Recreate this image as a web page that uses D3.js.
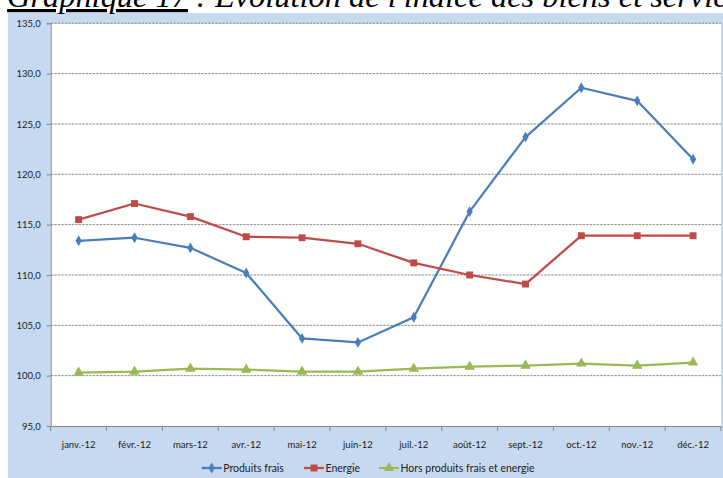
<!DOCTYPE html>
<html><head><meta charset="utf-8">
<script src="https://cdn.jsdelivr.net/npm/d3@7"></script>
<style>body{margin:0;background:#fff;overflow:hidden}svg{display:block}</style>
</head><body>
<svg id="c" width="723" height="478"></svg>
<script>
const months = ["janv.-12","févr.-12","mars-12","avr.-12","mai-12","juin-12","juil.-12","août-12","sept.-12","oct.-12","nov.-12","déc.-12"];
const produitsFrais = [113.4,113.7,112.7,110.2,103.7,103.3,105.8,116.3,123.7,128.6,127.3,121.5];
const energie = [115.5,117.1,115.8,113.8,113.7,113.1,111.2,110.0,109.1,113.9,113.9,113.9];
const horsProduits = [100.3,100.4,100.7,100.6,100.4,100.4,100.7,100.9,101.0,101.2,101.0,101.3];
const yTicks = [95,100,105,110,115,120,125,130,135];
const seriesNames = ["Produits frais","Energie","Hors produits frais et energie"];

const svg = d3.select("#c");
const W = 723, H = 478;
const m = {left:50.7, right:2, top:23.3, bottom:52};

svg.append("rect").attr("x",8).attr("y",13).attr("width",W-8).attr("height",H-13).attr("fill","#C6D9F1");
svg.append("rect").attr("x",m.left).attr("y",m.top).attr("width",W-m.right-m.left).attr("height",426-m.top).attr("fill","#fff");

const x = d3.scaleBand().domain(months).range([m.left, W-m.right]);
const y = d3.scaleLinear().domain([95,135]).range([426, m.top]);

// gridlines
svg.append("g").selectAll("line").data(yTicks.slice(1)).join("line")
  .attr("x1",m.left).attr("x2",W-m.right)
  .attr("y1",d=>y(d)).attr("y2",d=>y(d))
  .attr("stroke","#8c8c8c").attr("stroke-width",1).attr("stroke-dasharray","2.5,1");

// y axis
const fmt = d=>d.toFixed(1).replace(".",",");
const ya = svg.append("g").attr("transform",`translate(${m.left},0)`)
  .call(d3.axisLeft(y).tickValues(yTicks).tickFormat(fmt).tickSize(4).tickPadding(6));
ya.select(".domain").attr("stroke","#868686");
ya.selectAll(".tick line").attr("stroke","#868686");
ya.selectAll("text").attr("font-family","Lato, 'Open Sans', sans-serif").attr("font-size",9.5).attr("fill","#222");
ya.selectAll(".tick").filter(d=>d===95).select("line").remove();

// x axis
const xa = svg.append("g").attr("transform",`translate(0,426)`)
  .call(d3.axisBottom(x).tickSize(0).tickPadding(15));
xa.select(".domain").attr("stroke","#868686");
xa.selectAll("text").attr("font-family","Lato, 'Open Sans', sans-serif").attr("font-size",9.5).attr("fill","#222");
const bounds = months.map(d=>x(d)).concat([W-m.right]);
xa.append("g").selectAll("line").data(bounds).join("line")
  .attr("x1",d=>d).attr("x2",d=>d).attr("y1",0).attr("y2",5).attr("stroke","#868686");

const cx = d=>x(d)+x.bandwidth()/2;
const colors = ["#4A7EBB","#BE4B48","#98B954"];
const data = [produitsFrais, energie, horsProduits];
const symbols = [d3.symbolDiamond, d3.symbolSquare, d3.symbolTriangle];
const sizes = [34, 48, 48];

data.forEach((vals,i)=>{
  const line = d3.line().x((v,j)=>cx(months[j])).y(v=>y(v));
  svg.append("path").datum(vals).attr("d",line).attr("fill","none")
    .attr("stroke",colors[i]).attr("stroke-width",2.25).attr("stroke-linejoin","round");
  svg.append("g").selectAll("path").data(vals).join("path")
    .attr("transform",(v,j)=>`translate(${cx(months[j])},${y(v)})`)
    .attr("d",d3.symbol().type(symbols[i]).size(sizes[i]))
    .attr("fill",colors[i]);
});

// legend
const legX = [201.7, 304, 379];
const legY = 468;
const lg = svg.append("g");
seriesNames.forEach((n,i)=>{
  const g = lg.append("g").attr("transform",`translate(${legX[i]},${legY})`);
  g.append("line").attr("x1",0).attr("x2",20).attr("stroke",colors[i]).attr("stroke-width",2.25);
  g.append("path").attr("transform","translate(10,0)").attr("d",d3.symbol().type(symbols[i]).size(sizes[i])).attr("fill",colors[i]);
  g.append("text").attr("x",21.5).attr("y",0).attr("dy","0.35em").text(n)
    .attr("font-family","Lato, 'Open Sans', sans-serif").attr("font-size",10.5).attr("fill","#222");
});

// title (cut off at the top edge, as in the reference)
const t = svg.append("text").attr("x",7).attr("y",7)
  .attr("font-family","'Liberation Serif', 'Times New Roman', serif").attr("font-style","italic").attr("fill","#000");
const t1 = t.append("tspan").text("Graphique 17").attr("text-decoration","underline");
t.append("tspan").text(" : Evolution de l'indice des biens et services");
t.attr("font-size",32);
const w1 = t1.node().getComputedTextLength();
t.attr("font-size", 32*181/w1);
</script>
</body></html>
